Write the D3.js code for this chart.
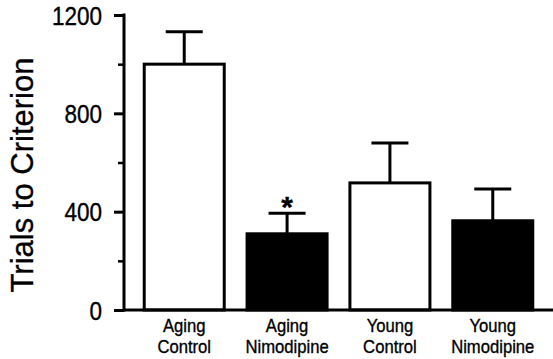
<!DOCTYPE html>
<html><head><meta charset="utf-8">
<script src="https://cdn.jsdelivr.net/npm/d3@7"></script>
<style>body{margin:0;background:#fff}svg{display:block}text{font-family:"Liberation Sans",Arial,Helvetica,sans-serif;fill:#000;stroke:#000;stroke-width:0.35px}</style>
</head><body>
<script>
const categories = [["Aging","Control"],["Aging","Nimodipine"],["Young","Control"],["Young","Nimodipine"]];
const values = [1000, 310, 517, 363];
const errors = [132, 84, 162, 129];
const fills = ["white","black","white","black"];
const significant = [false, true, false, false];
const majorTicks = [0, 400, 800, 1200];
const minorTicks = [200, 600, 1000];
const yLabel = "Trials to Criterion";

const W = 553, H = 359;
const svg = d3.select("body").append("svg").attr("width", W).attr("height", H);
const y = d3.scaleLinear().domain([0, 1200]).range([310, 15]);
const x = d3.scaleBand().domain(d3.range(categories.length)).range([136, 541]).paddingInner(0.222).paddingOuter(0.08);
const axisX = 124;

// bars
svg.selectAll("rect.bar").data(values).join("rect")
  .attr("x", (d,i) => x(i)).attr("width", x.bandwidth())
  .attr("y", d => y(d)).attr("height", d => y(0) - y(d))
  .attr("fill", (d,i) => fills[i]).attr("stroke", "#000").attr("stroke-width", 3);

// error bars
const cap = 37;
values.forEach((v,i) => {
  const cx = x(i) + x.bandwidth()/2;
  svg.append("line").attr("x1", cx).attr("x2", cx).attr("y1", y(v)).attr("y2", y(v+errors[i]))
    .attr("stroke","#000").attr("stroke-width",3);
  svg.append("line").attr("x1", cx-cap/2).attr("x2", cx+cap/2).attr("y1", y(v+errors[i])).attr("y2", y(v+errors[i]))
    .attr("stroke","#000").attr("stroke-width",3);
  if (significant[i]) {
    svg.append("text").attr("x", cx).attr("y", y(v+errors[i]) + 4).attr("text-anchor","middle")
      .attr("font-size", 30).attr("font-weight","bold").text("*");
  }
});

// y axis
const yAxis = d3.axisLeft(y).tickValues(majorTicks).tickSize(10).tickPadding(0).tickFormat(d3.format("d"));
const gy = svg.append("g").attr("transform", `translate(${axisX},0)`).call(yAxis);
gy.select(".domain").remove();
gy.selectAll(".tick line").attr("stroke","#000").attr("stroke-width",3);
gy.selectAll(".tick text").attr("font-size", 25).attr("font-family",null).attr("fill",null)
  .attr("x", null).attr("dy","0.36em")
  .attr("transform", "translate(-22,0) scale(0.9,1)");
const gm = svg.append("g").attr("transform", `translate(${axisX},0)`)
  .call(d3.axisLeft(y).tickValues(minorTicks).tickSize(6).tickFormat(""));
gm.select(".domain").remove();
gm.selectAll(".tick line").attr("stroke","#000").attr("stroke-width",2.5);
svg.append("line").attr("x1", axisX).attr("x2", axisX).attr("y1", y(1200)-1.5).attr("y2", y(0)+1.5)
  .attr("stroke","#000").attr("stroke-width",3);
// baseline
svg.append("line").attr("x1", axisX).attr("x2", W).attr("y1", y(0)).attr("y2", y(0))
  .attr("stroke","#000").attr("stroke-width",3);

// category labels
categories.forEach((c,i) => {
  const cx = x(i) + x.bandwidth()/2;
  const t = svg.append("text").attr("text-anchor","middle").attr("font-size", 18.5)
    .attr("transform", `translate(${cx},0) scale(0.9,1)`);
  t.append("tspan").attr("x", 0).attr("y", 332).text(c[0]);
  t.append("tspan").attr("x", 0).attr("y", 353).text(c[1]);
});

// y label
svg.append("text").attr("text-anchor","middle").attr("font-size", 31)
  .attr("transform", `translate(33,175) rotate(-90)`).text(yLabel);
</script>
</body></html>
